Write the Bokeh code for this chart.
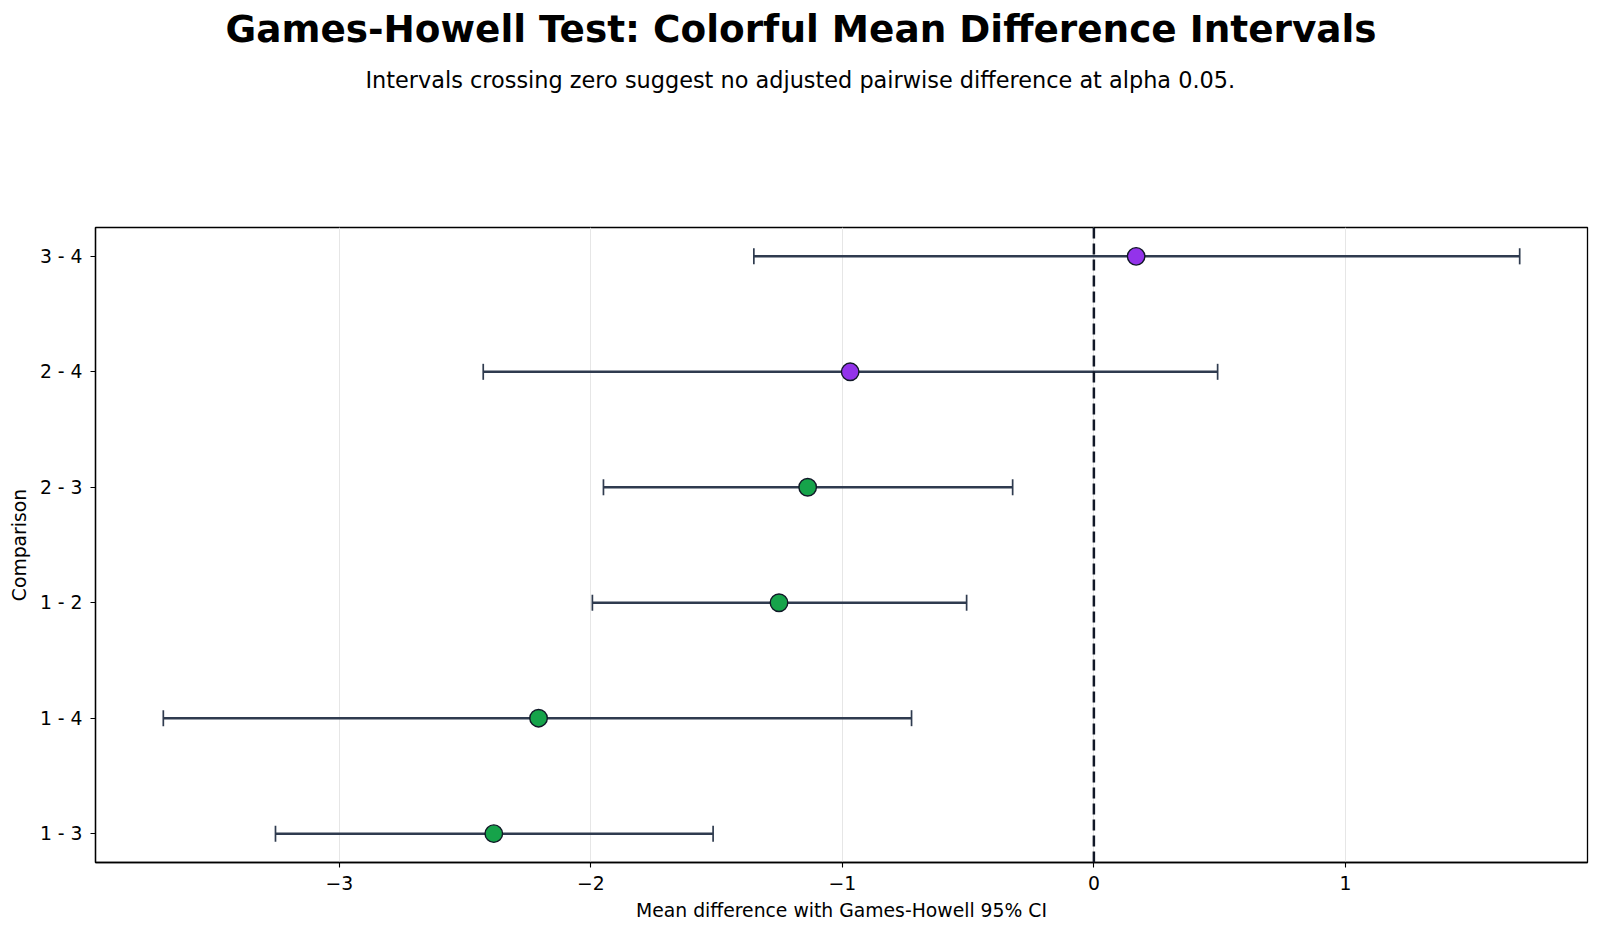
from bokeh.plotting import figure
from bokeh.models import (ColumnDataSource, Whisker, TeeHead, Span, Range1d,
                          FixedTicker, Title)
from bokeh.embed import file_html
from bokeh.resources import INLINE

# Games-Howell pairwise comparisons (bottom to top)
comparisons = ["1 - 3", "1 - 4", "1 - 2", "2 - 3", "2 - 4", "3 - 4"]
mean_diff = [-2.386, -2.208, -1.252, -1.138, -0.969, 0.168]
ci_lower = [-3.254, -3.700, -1.994, -1.950, -2.428, -1.352]
ci_upper = [-1.514, -0.725, -0.506, -0.323, 0.492, 1.693]
x_ticks = [-3, -2, -1, 0, 1]

SIG_COLOR = "#16a34a"
NS_COLOR = "#9333ea"
BAR_COLOR = "#2f3b4f"
EDGE_COLOR = "#111827"
FONT = "DejaVu Sans"

positions = list(range(len(comparisons)))
colors = [SIG_COLOR if (hi < 0 or lo > 0) else NS_COLOR
          for lo, hi in zip(ci_lower, ci_upper)]

source = ColumnDataSource(dict(
    pos=positions, mean=mean_diff, lower=ci_lower, upper=ci_upper,
    color=colors, label=comparisons,
))

lo_all, hi_all = min(ci_lower), max(ci_upper)
pad = 0.05 * (hi_all - lo_all)

p = figure(
    width=1600, height=933,
    x_range=Range1d(lo_all - pad, hi_all + pad),
    y_range=Range1d(-0.25, len(comparisons) - 0.75),
    output_backend="svg", toolbar_location=None,
    min_border_left=95, min_border_right=13, min_border_bottom=71,
    min_border_top=227,
)
xax = p.below[0]
yax = p.left[0]

# blank band between the subtitle and the plot frame
gap = Title(text=" ", text_font=FONT, text_font_size="10px",
            text_color="white", standoff=109)
p.add_layout(gap, "above")

# titles
p.title.text = "Games-Howell Test: Colorful Mean Difference Intervals"
p.title.text_font = FONT
p.title.text_font_size = "37.4px"
p.title.text_font_style = "bold"
p.title.text_color = "black"
p.title.align = "left"
p.title.offset = 130
p.title.standoff = 2
subtitle = Title(
    text="Intervals crossing zero suggest no adjusted pairwise difference at alpha 0.05.",
    text_font=FONT, text_font_size="22.4px", text_font_style="normal",
    text_color="black", align="left", offset=270, standoff=26,
)
p.add_layout(subtitle, "above")

# frame and grid
p.outline_line_color = "black"
p.outline_line_width = 1.3
p.outline_line_alpha = 1.0
p.background_fill_color = "white"
p.border_fill_color = "white"
p.ygrid.grid_line_color = None
p.xgrid.grid_line_color = "#e6e6e6"
p.xgrid.grid_line_width = 1

# axes
xax.ticker = FixedTicker(ticks=x_ticks)
xax.major_label_overrides = {t: (str(t).replace("-", "\u2212")) for t in x_ticks}
yax.ticker = FixedTicker(ticks=positions)
yax.major_label_overrides = {i: c for i, c in zip(positions, comparisons)}
xax.axis_label = "Mean difference with Games-Howell 95% CI"
yax.axis_label = "Comparison"
for ax in (xax, yax):
    ax.axis_line_color = "black"
    ax.axis_line_width = 1.3
    ax.major_tick_line_color = "black"
    ax.major_tick_line_width = 1.1
    ax.major_tick_out = 5
    ax.major_tick_in = 0
    ax.minor_tick_line_color = None
    ax.major_label_text_font = FONT
    ax.major_label_text_font_size = "18.8px"
    ax.major_label_text_color = "black"
    ax.axis_label_text_font = FONT
    ax.axis_label_text_font_size = "18.8px"
    ax.axis_label_text_font_style = "normal"
    ax.axis_label_text_color = "black"
xax.major_label_standoff = 8
xax.axis_label_standoff = 7
yax.major_label_standoff = 8
yax.axis_label_standoff = 7

# zero reference line
p.add_layout(Span(location=0, dimension="height", line_color=EDGE_COLOR,
                  line_width=2.5, line_dash="11 5"))

# confidence intervals
whisker = Whisker(
    source=source, base="pos", lower="lower", upper="upper", dimension="width",
    line_color=BAR_COLOR, line_width=2.5,
    lower_head=TeeHead(size=16, line_color=BAR_COLOR, line_width=1.7),
    upper_head=TeeHead(size=16, line_color=BAR_COLOR, line_width=1.7),
)
p.add_layout(whisker)

# mean differences
p.scatter(x="mean", y="pos", source=source, size=17.5, marker="circle",
          fill_color="color", line_color=EDGE_COLOR, line_width=1.4)

open("out.html", "w").write(file_html(p, INLINE))
